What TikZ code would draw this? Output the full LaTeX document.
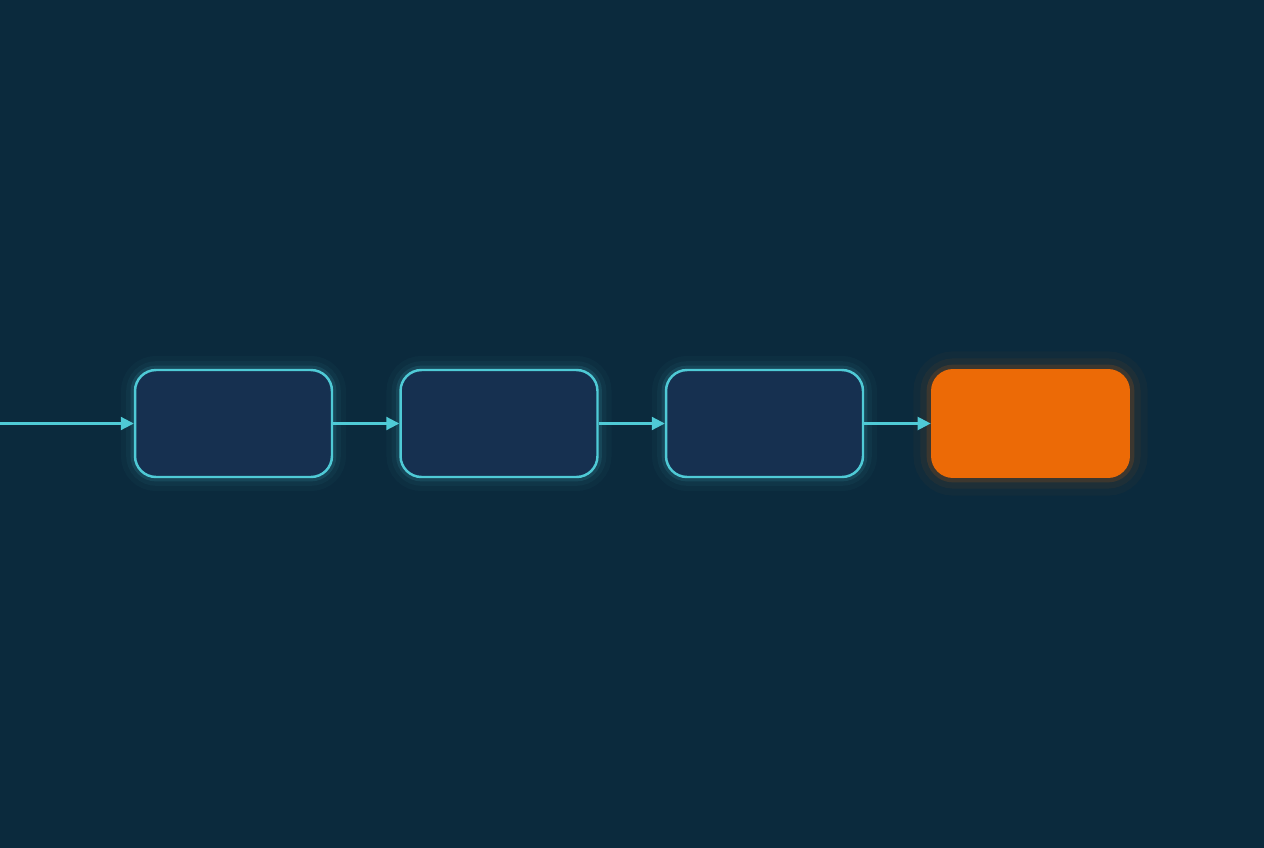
\documentclass[tikz,border=0pt]{standalone}
\usetikzlibrary{arrows.meta}
\definecolor{bg}{HTML}{0B2A3D}
\definecolor{boxfill}{HTML}{163050}
\definecolor{cyanline}{HTML}{4FCAD6}
\definecolor{orangebox}{HTML}{EC6A06}
\tikzset{
  stagebox/.style={rectangle, rounded corners=0.42cm, minimum width=3.94cm, minimum height=2.14cm,
    fill=boxfill, draw=cyanline, line width=1.4pt,
    preaction={draw=cyanline, line width=16pt, draw opacity=0.03},
    preaction={draw=cyanline, line width=10pt, draw opacity=0.05},
    preaction={draw=cyanline, line width=5pt, draw opacity=0.12}},
  finalbox/.style={rectangle, rounded corners=0.44cm, minimum width=3.98cm, minimum height=2.18cm,
    fill=orangebox, draw=none,
    preaction={draw=orangebox, line width=20pt, draw opacity=0.03},
    preaction={draw=orangebox, line width=12pt, draw opacity=0.06},
    preaction={draw=orangebox, line width=5pt, draw opacity=0.15}},
  flow/.style={draw=cyanline, line width=1.2pt, -{Triangle[length=0.26cm, width=0.26cm]}}
}
\begin{document}
\begin{tikzpicture}[x=0.02cm, y=-0.02cm]
  \fill[bg] (0,0) rectangle (1264,848);
  \useasboundingbox (0,0) rectangle (1264,848);
  \coordinate (start) at (0,423.5);
  \node[stagebox] (b1) at (233.5,423.5) {};
  \node[stagebox] (b2) at (499,423.5) {};
  \node[stagebox] (b3) at (764.5,423.5) {};
  \node[finalbox] (b4) at (1030.5,423.5) {};
  \draw[flow] (start) -- (b1.west);
  \draw[flow] (b1) -- (b2);
  \draw[flow] (b2) -- (b3);
  \draw[flow] (b3) -- (b4);
\end{tikzpicture}
\end{document}
